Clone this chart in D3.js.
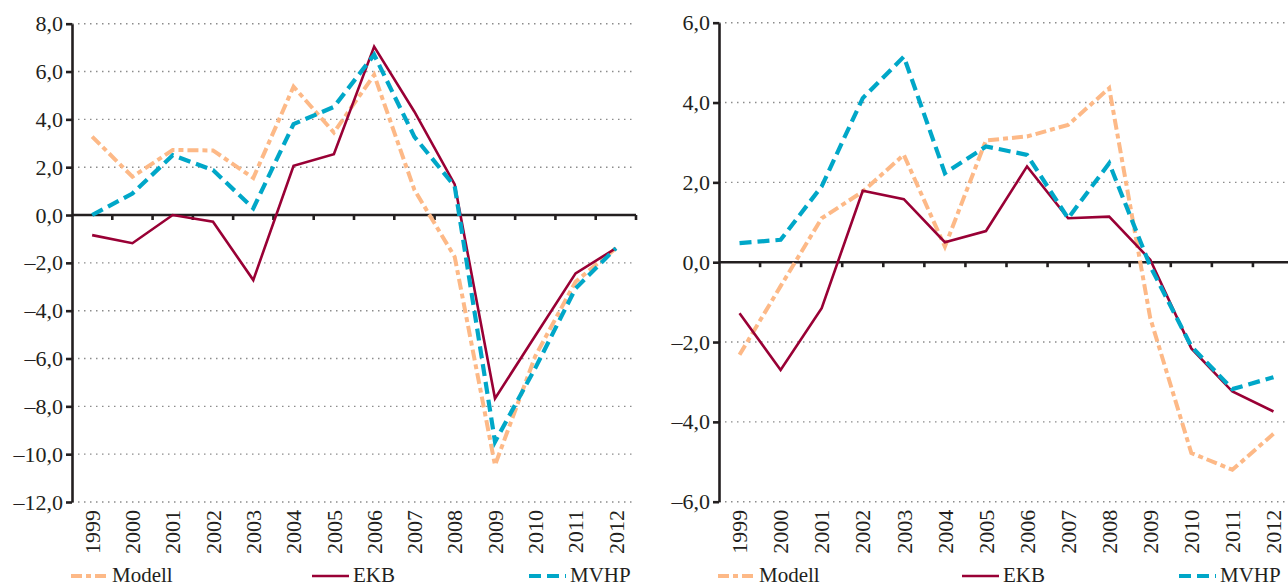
<!DOCTYPE html>
<html>
<head>
<meta charset="utf-8">
<script src="https://cdn.jsdelivr.net/npm/d3@7"></script>
<style>
  body { margin: 0; background: #fff; }
  svg text { font-family: "Liberation Serif", "Times New Roman", "DejaVu Serif", serif !important; }
</style>
</head>
<body>
<svg id="chart" width="1288" height="586"></svg>
<script>
// categories
const years = ["1999", "2000", "2001", "2002", "2003", "2004", "2005",
  "2006", "2007", "2008", "2009", "2010", "2011", "2012"];

// left panel values
const leftModell = [3.28, 1.6, 2.72, 2.7, 1.55, 5.37, 3.45, 5.86, 1.05, -1.75, -10.46, -5.9, -2.79, -1.39];
const leftEKB = [-0.84, -1.18, 0.0, -0.28, -2.72, 2.06, 2.54, 7.04, 4.32, 1.28, -7.67, -5.05, -2.44, -1.39];
const leftMVHP = [0.0, 0.9, 2.5, 1.88, 0.28, 3.8, 4.52, 6.7, 3.27, 1.2, -9.48, -6.4, -3.07, -1.39];
const leftTicks = [8, 6, 4, 2, 0, -2, -4, -6, -8, -10, -12];

// right panel values
const rightModell = [-2.32, -0.6, 1.1, 1.77, 2.69, 0.39, 3.05, 3.15, 3.44, 4.36, -1.4, -4.78, -5.2, -4.3];
const rightEKB = [-1.28, -2.7, -1.15, 1.79, 1.58, 0.5, 0.78, 2.4, 1.1, 1.14, 0.06, -2.16, -3.24, -3.74];
const rightMVHP = [0.48, 0.56, 1.9, 4.11, 5.15, 2.23, 2.9, 2.69, 1.1, 2.48, -0.1, -2.11, -3.18, -2.88];
const rightTicks = [6, 4, 2, 0, -2, -4, -6];

const seriesNames = ["Modell", "EKB", "MVHP"];

const styles = {
  Modell: { color: "#fdb987", width: 4, dash: "11,4,5,4" },
  EKB: { color: "#990035", width: 2.6, dash: null },
  MVHP: { color: "#00a7c8", width: 4.2, dash: "12,6" }
};

const serif = "'Liberation Serif', 'Times New Roman', 'DejaVu Serif', serif";
const svg = d3.select("#chart");
const fmt = v => d3.format(".1f")(v).replace(".", ",").replace("-", "\u2013").replace("\u2212", "\u2013");

function drawPanel(cfg) {
  const g = svg.append("g").attr("font-family", serif);

  const x = d3.scaleBand().domain(years).range(cfg.xRange);
  const y = d3.scaleLinear().domain(cfg.yDomain).range(cfg.yRange);

  // dotted gridlines
  g.selectAll(".grid")
    .data(cfg.ticks.filter(t => t !== 0))
    .enter()
    .append("line")
    .attr("x1", cfg.xRange[0])
    .attr("x2", cfg.xRange[1])
    .attr("y1", d => y(d))
    .attr("y2", d => y(d))
    .attr("stroke", "#8c8c8c")
    .attr("stroke-width", 1.4)
    .attr("stroke-dasharray", "1.5,4.5");

  // y axis
  const yAxis = d3.axisLeft(y)
    .tickValues(cfg.ticks)
    .tickSize(6)
    .tickSizeOuter(0)
    .tickPadding(3)
    .tickFormat(fmt);
  const ya = g.append("g")
    .attr("transform", `translate(${cfg.xRange[0]},0)`)
    .call(yAxis)
    .attr("font-family", serif)
    .attr("font-size", 22);
  ya.select(".domain").attr("stroke", "#231f20").attr("stroke-width", 2.6);
  ya.selectAll(".tick line").attr("stroke", "#231f20").attr("stroke-width", 2.6);
  ya.selectAll(".tick text").attr("fill", "#231f20");

  // zero line with ticks at band boundaries
  const y0 = y(0);
  g.append("line")
    .attr("x1", cfg.xRange[0])
    .attr("x2", cfg.xRange[1])
    .attr("y1", y0)
    .attr("y2", y0)
    .attr("stroke", "#231f20")
    .attr("stroke-width", 2.6);
  const bounds = years.slice(1).map(d => x(d)).concat([x(years[years.length - 1]) + x.bandwidth()]);
  g.selectAll(".xtick")
    .data(bounds)
    .enter()
    .append("line")
    .attr("x1", d => d)
    .attr("x2", d => d)
    .attr("y1", y0)
    .attr("y2", y0 + 5)
    .attr("stroke", "#231f20")
    .attr("stroke-width", 2.6);

  // year labels, rotated
  g.selectAll(".xlab")
    .data(years)
    .enter()
    .append("text")
    .attr("transform", d => `translate(${x(d) + x.bandwidth() / 2},${cfg.yRange[0] + 8}) rotate(-90)`)
    .attr("dy", "0.35em")
    .attr("text-anchor", "end")
    .attr("fill", "#231f20")
    .attr("font-size", 22)
    .text(d => d);

  // lines
  const line = d3.line()
    .x((d, i) => x(years[i]) + x.bandwidth() / 2)
    .y(d => y(d));

  seriesNames.forEach(name => {
    const s = styles[name];
    g.append("path")
      .datum(cfg.data[name])
      .attr("fill", "none")
      .attr("stroke", s.color)
      .attr("stroke-width", s.width)
      .attr("stroke-dasharray", s.dash)
      .attr("stroke-linejoin", "miter")
      .attr("d", line);
  });

  // legend
  cfg.legend.forEach((lx, i) => {
    const s = styles[seriesNames[i]];
    g.append("line")
      .attr("x1", lx)
      .attr("x2", lx + 37)
      .attr("y1", 576)
      .attr("y2", 576)
      .attr("stroke", s.color)
      .attr("stroke-width", s.width)
      .attr("stroke-dasharray", s.dash);
    g.append("text")
      .attr("x", lx + 41)
      .attr("y", 582)
      .attr("fill", "#231f20")
      .attr("font-size", 21)
      .text(seriesNames[i]);
  });
}

drawPanel({
  xRange: [72, 636],
  yDomain: [-12, 8],
  yRange: [502, 23.7],
  ticks: leftTicks,
  data: { Modell: leftModell, EKB: leftEKB, MVHP: leftMVHP },
  legend: [71, 312, 529]
});

drawPanel({
  xRange: [719, 1294],
  yDomain: [-6, 6],
  yRange: [501.7, 22.7],
  ticks: rightTicks,
  data: { Modell: rightModell, EKB: rightEKB, MVHP: rightMVHP },
  legend: [718, 962, 1179]
});
</script>
</body>
</html>
